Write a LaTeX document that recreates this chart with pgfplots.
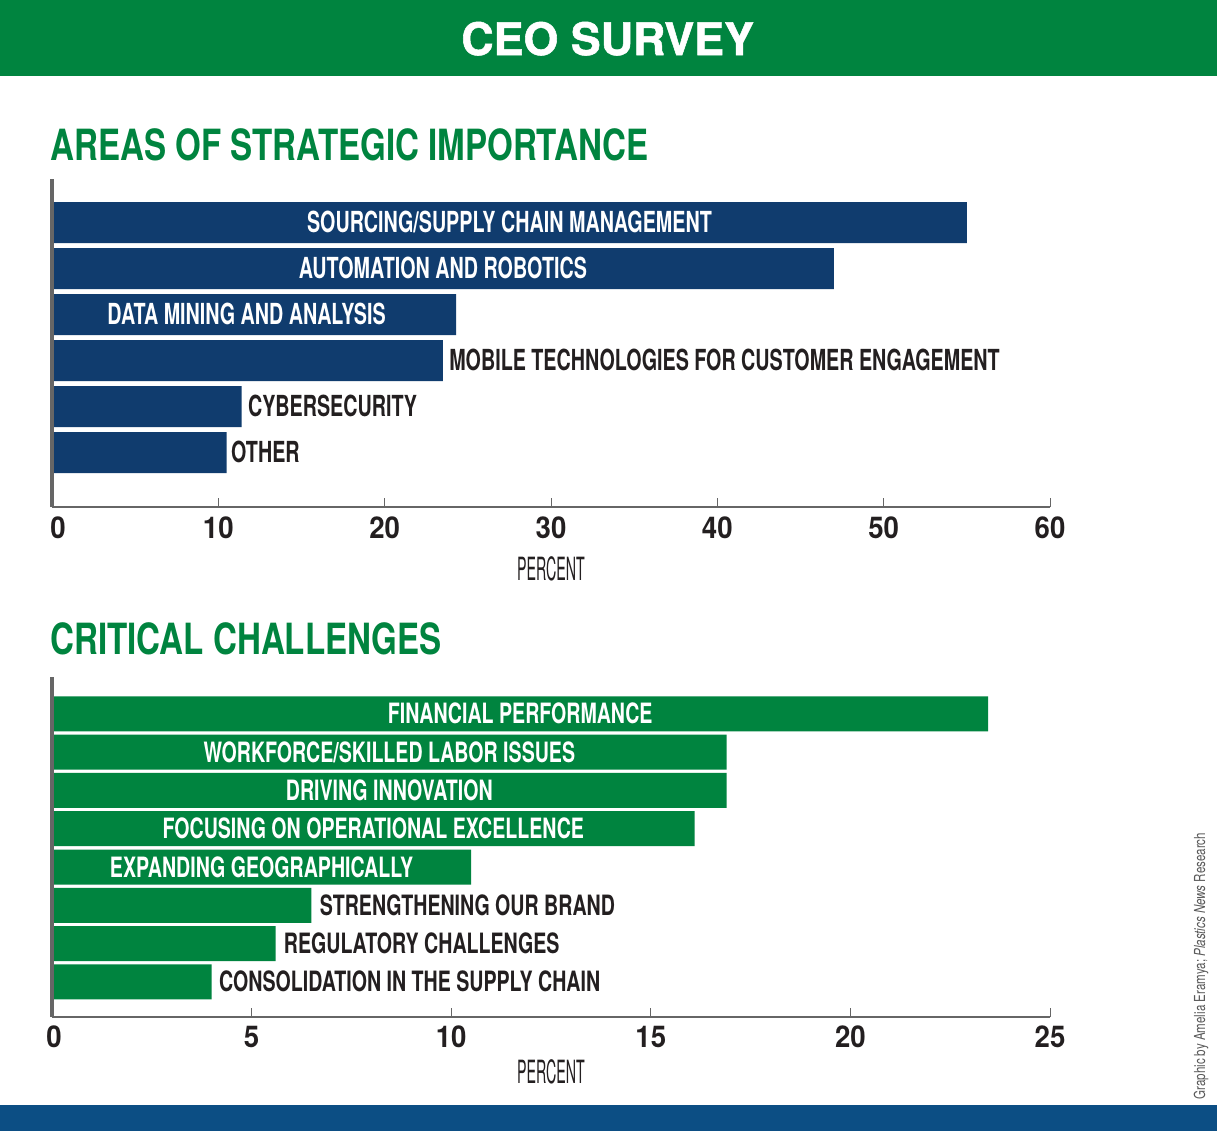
\documentclass[border=0pt]{standalone}
\usepackage{fontspec}
\setmainfont{TeX Gyre Heros}
\newfontfamily\heavy[FakeBold=1.2]{TeX Gyre Heros}
\usepackage{graphicx}
\usepackage{pgfplots}
\pgfplotsset{compat=1.18}
\definecolor{cgreen}{HTML}{00843F}
\definecolor{cnavy}{HTML}{103C6E}
\definecolor{cblue}{HTML}{0C4E84}
\definecolor{axgray}{HTML}{666666}
\definecolor{tdark}{HTML}{231F20}
\newcommand\hs[2]{\scalebox{#1}[1]{#2}}
\newcommand\lblA{\bfseries\fontsize{14.5pt}{16pt}\selectfont}
\newcommand\lblB{\bfseries\fontsize{14pt}{16pt}\selectfont}
\newcommand\tl[1]{\scalebox{0.92}[1]{#1}}
\begin{document}
\begin{tikzpicture}
\fill[white] (0,0) rectangle (608.5pt,-565.5pt);
\fill[cgreen] (0,0) rectangle (608.5pt,-38pt);
\fill[cblue] (0,-552.5pt) rectangle (608.5pt,-565.5pt);
\node[anchor=base, text=white, inner sep=0, font=\heavy\bfseries\fontsize{22.4pt}{24pt}\selectfont] at (303.8pt,-27.5pt) {CEO SURVEY};
\node[anchor=base west, text=cgreen, inner sep=0, font=\bfseries\fontsize{21.5pt}{23pt}\selectfont] at (25pt,-80pt) {\hs{0.77}{AREAS OF STRATEGIC IMPORTANCE}};
\node[anchor=base west, text=cgreen, inner sep=0, font=\bfseries\fontsize{21.5pt}{23pt}\selectfont] at (25pt,-327pt) {\hs{0.77}{CRITICAL CHALLENGES}};
\node[rotate=90, anchor=base west, inner sep=0, text=black!65, font=\fontsize{7.6pt}{9pt}\selectfont] at (602.5pt,-550pt) {\hs{0.76}{Graphic by Amelia Eramya; \textit{Plastics News} Research}};

\begin{axis}[
  at={(26pt,-253.5pt)}, anchor=south west,
  scale only axis, width=499pt, height=164pt,
  xmin=0, xmax=60, ymin=-0.185, ymax=6.946,
  xbar, bar width=20.5pt,
  axis x line=bottom, axis y line=left,
  axis line style={-},
  x axis line style={axgray, line width=1pt},
  y axis line style={axgray, line width=1.5pt},
  xtick={0,10,20,30,40,50,60},
  xticklabels={\hspace*{6pt}\tl{0},\tl{10},\tl{20},\tl{30},\tl{40},\tl{50},\tl{60}},
  ytick=\empty,
  tick align=inside, major tick length=4.5pt,
  xtick style={axgray, line width=0.5pt},
  xticklabel style={anchor=base, yshift=-15.5pt, inner sep=0, text=tdark, font=\bfseries\fontsize{15pt}{17pt}\selectfont},
  xlabel={\hs{0.445}{PERCENT}},
  xlabel style={at={(axis description cs:0.5,0)}, anchor=base, yshift=-36.5pt, inner sep=0, text=tdark, font=\fontsize{16pt}{18pt}\selectfont},
  axis on top, clip=false,
]
\addplot[fill=cnavy, draw=none] coordinates {(55,6) (47,5) (24.3,4) (23.5,3) (11.4,2) (10.5,1)};
\node[anchor=base, yshift=-5.2pt, inner sep=0, text=white, font=\lblA] at (axis cs:27.5,6) {\hs{0.68}{SOURCING/SUPPLY CHAIN MANAGEMENT}};
\node[anchor=base, yshift=-5.2pt, inner sep=0, text=white, font=\lblA] at (axis cs:23.5,5) {\hs{0.68}{AUTOMATION AND ROBOTICS}};
\node[anchor=base, yshift=-5.2pt, inner sep=0, text=white, font=\lblA] at (axis cs:11.7,4) {\hs{0.68}{DATA MINING AND ANALYSIS}};
\node[anchor=base west, xshift=3pt, yshift=-5.2pt, inner sep=0, text=tdark, font=\lblA] at (axis cs:23.5,3) {\hs{0.68}{MOBILE TECHNOLOGIES FOR CUSTOMER ENGAGEMENT}};
\node[anchor=base west, xshift=3pt, yshift=-5.2pt, inner sep=0, text=tdark, font=\lblA] at (axis cs:11.4,2) {\hs{0.68}{CYBERSECURITY}};
\node[anchor=base west, xshift=2pt, yshift=-5.2pt, inner sep=0, text=tdark, font=\lblA] at (axis cs:10.5,1) {\hs{0.68}{OTHER}};
\end{axis}

\begin{axis}[
  at={(26pt,-508.5pt)}, anchor=south west,
  scale only axis, width=499pt, height=170pt,
  xmin=0, xmax=25, ymin=0.086, ymax=8.96,
  xbar, bar width=17.5pt,
  axis x line=bottom, axis y line=left,
  axis line style={-},
  x axis line style={axgray, line width=0.6pt},
  y axis line style={axgray, line width=1.5pt},
  xtick={0,5,10,15,20,25},
  xticklabels={\hspace*{2pt}\tl{0},\tl{5},\tl{10},\tl{15},\tl{20},\tl{25}},
  ytick=\empty,
  tick align=inside, major tick length=4.5pt,
  xtick style={axgray, line width=0.5pt},
  xticklabel style={anchor=base, yshift=-15pt, inner sep=0, text=tdark, font=\bfseries\fontsize{15pt}{17pt}\selectfont},
  xlabel={\hs{0.445}{PERCENT}},
  xlabel style={at={(axis description cs:0.5,0)}, anchor=base, yshift=-33pt, inner sep=0, text=tdark, font=\fontsize{16pt}{18pt}\selectfont},
  axis on top, clip=false,
]
\addplot[fill=cgreen, draw=none] coordinates {(23.45,8) (16.9,7) (16.9,6) (16.1,5) (10.5,4) (6.5,3) (5.6,2) (4.0,1)};
\node[anchor=base, yshift=-5pt, inner sep=0, text=white, font=\lblB] at (axis cs:11.73,8) {\hs{0.70}{FINANCIAL PERFORMANCE}};
\node[anchor=base, yshift=-5pt, inner sep=0, text=white, font=\lblB] at (axis cs:8.45,7) {\hs{0.70}{WORKFORCE/SKILLED LABOR ISSUES}};
\node[anchor=base, yshift=-5pt, inner sep=0, text=white, font=\lblB] at (axis cs:8.45,6) {\hs{0.70}{DRIVING INNOVATION}};
\node[anchor=base, yshift=-5pt, inner sep=0, text=white, font=\lblB] at (axis cs:8.05,5) {\hs{0.70}{FOCUSING ON OPERATIONAL EXCELLENCE}};
\node[anchor=base, yshift=-5pt, inner sep=0, text=white, font=\lblB] at (axis cs:5.25,4) {\hs{0.70}{EXPANDING GEOGRAPHICALLY}};
\node[anchor=base west, xshift=4pt, yshift=-5pt, inner sep=0, text=tdark, font=\lblB] at (axis cs:6.5,3) {\hs{0.70}{STRENGTHENING OUR BRAND}};
\node[anchor=base west, xshift=4pt, yshift=-5pt, inner sep=0, text=tdark, font=\lblB] at (axis cs:5.6,2) {\hs{0.70}{REGULATORY CHALLENGES}};
\node[anchor=base west, xshift=3.5pt, yshift=-5pt, inner sep=0, text=tdark, font=\lblB] at (axis cs:4.0,1) {\hs{0.70}{CONSOLIDATION IN THE SUPPLY CHAIN}};
\end{axis}
\pgfresetboundingbox
\useasboundingbox (0,0) rectangle (608.5pt,-565.5pt);
\end{tikzpicture}
\end{document}
